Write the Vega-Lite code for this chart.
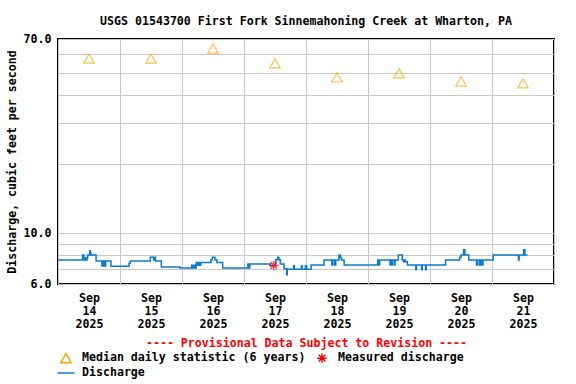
{
  "$schema": "https://vega.github.io/schema/vega-lite/v6.json",
  "width": 496,
  "height": 245,
  "autosize": {"type": "none"},
  "padding": {"left": 58, "top": 39, "right": 22, "bottom": 100},
  "background": "white",
  "title": {
    "text": "USGS 01543700 First Fork Sinnemahoning Creek at Wharton, PA",
    "font": "DejaVu Sans Mono",
    "fontSize": 11.6,
    "fontWeight": "bold",
    "color": "black",
    "frame": "group",
    "anchor": "middle",
    "offset": 5
  },
  "config": {
    "view": {"stroke": "black", "strokeWidth": 2},
    "font": "DejaVu Sans Mono",
    "axis": {
      "labelFont": "DejaVu Sans Mono",
      "labelFontSize": 11.6,
      "labelFontWeight": "bold",
      "labelColor": "black",
      "titleFont": "DejaVu Sans Mono",
      "titleFontSize": 11.6,
      "titleFontWeight": "bold",
      "titleColor": "black",
      "ticks": false,
      "domain": false,
      "grid": true,
      "gridColor": "#c8c8c8",
      "gridWidth": 1
    },
    "legend": {
      "labelFont": "DejaVu Sans Mono",
      "labelFontSize": 11.6,
      "labelFontWeight": "bold",
      "labelColor": "black",
      "labelLimit": 0
    }
  },
  "datasets": {
    "flow": [
      {"t": "2025-09-14T00:00", "v": 7.64},
      {"t": "2025-09-14T09:30", "v": 8.03},
      {"t": "2025-09-14T10:00", "v": 7.64},
      {"t": "2025-09-14T10:30", "v": 7.8},
      {"t": "2025-09-14T11:00", "v": 7.64},
      {"t": "2025-09-14T11:15", "v": 7.8},
      {"t": "2025-09-14T11:30", "v": 8.03},
      {"t": "2025-09-14T12:15", "v": 8.37},
      {"t": "2025-09-14T12:30", "v": 8.2},
      {"t": "2025-09-14T12:45", "v": 8.03},
      {"t": "2025-09-14T14:45", "v": 7.55},
      {"t": "2025-09-14T17:00", "v": 7.19},
      {"t": "2025-09-14T17:30", "v": 7.55},
      {"t": "2025-09-14T18:00", "v": 7.19},
      {"t": "2025-09-14T18:30", "v": 7.55},
      {"t": "2025-09-14T20:30", "v": 7.16},
      {"t": "2025-09-15T03:30", "v": 7.38},
      {"t": "2025-09-15T04:00", "v": 7.55},
      {"t": "2025-09-15T11:45", "v": 7.85},
      {"t": "2025-09-15T13:00", "v": 7.64},
      {"t": "2025-09-15T13:30", "v": 7.85},
      {"t": "2025-09-15T13:45", "v": 7.55},
      {"t": "2025-09-15T16:00", "v": 7.12},
      {"t": "2025-09-15T23:15", "v": 7.04},
      {"t": "2025-09-16T03:45", "v": 7.24},
      {"t": "2025-09-16T04:15", "v": 7.04},
      {"t": "2025-09-16T04:45", "v": 7.24},
      {"t": "2025-09-16T05:15", "v": 7.04},
      {"t": "2025-09-16T05:30", "v": 7.44},
      {"t": "2025-09-16T06:00", "v": 7.24},
      {"t": "2025-09-16T06:30", "v": 7.44},
      {"t": "2025-09-16T07:00", "v": 7.24},
      {"t": "2025-09-16T07:15", "v": 7.44},
      {"t": "2025-09-16T11:15", "v": 7.65},
      {"t": "2025-09-16T11:45", "v": 7.84},
      {"t": "2025-09-16T12:45", "v": 7.65},
      {"t": "2025-09-16T13:30", "v": 7.44},
      {"t": "2025-09-16T15:45", "v": 7.04},
      {"t": "2025-09-17T01:30", "v": 7.33},
      {"t": "2025-09-17T02:00", "v": 7.04},
      {"t": "2025-09-17T02:15", "v": 7.33},
      {"t": "2025-09-17T10:15", "v": 7.21},
      {"t": "2025-09-17T12:15", "v": 7.65},
      {"t": "2025-09-17T13:00", "v": 7.84},
      {"t": "2025-09-17T13:30", "v": 7.65},
      {"t": "2025-09-17T14:00", "v": 7.33},
      {"t": "2025-09-17T15:30", "v": 7.0},
      {"t": "2025-09-17T16:30", "v": 6.59},
      {"t": "2025-09-17T16:45", "v": 6.95},
      {"t": "2025-09-17T19:15", "v": 7.21},
      {"t": "2025-09-17T19:30", "v": 6.95},
      {"t": "2025-09-17T22:15", "v": 7.21},
      {"t": "2025-09-17T22:30", "v": 6.95},
      {"t": "2025-09-17T23:45", "v": 7.21},
      {"t": "2025-09-18T00:15", "v": 6.95},
      {"t": "2025-09-18T02:00", "v": 7.26},
      {"t": "2025-09-18T07:00", "v": 7.64},
      {"t": "2025-09-18T10:00", "v": 7.26},
      {"t": "2025-09-18T10:15", "v": 7.64},
      {"t": "2025-09-18T11:00", "v": 7.26},
      {"t": "2025-09-18T11:30", "v": 7.64},
      {"t": "2025-09-18T12:45", "v": 8.03},
      {"t": "2025-09-18T13:15", "v": 7.8},
      {"t": "2025-09-18T13:45", "v": 7.64},
      {"t": "2025-09-18T14:45", "v": 7.26},
      {"t": "2025-09-19T03:45", "v": 7.64},
      {"t": "2025-09-19T04:15", "v": 7.26},
      {"t": "2025-09-19T04:30", "v": 7.64},
      {"t": "2025-09-19T08:30", "v": 7.26},
      {"t": "2025-09-19T08:45", "v": 7.64},
      {"t": "2025-09-19T09:15", "v": 7.26},
      {"t": "2025-09-19T09:30", "v": 7.64},
      {"t": "2025-09-19T10:15", "v": 7.26},
      {"t": "2025-09-19T10:30", "v": 7.64},
      {"t": "2025-09-19T11:45", "v": 8.03},
      {"t": "2025-09-19T13:15", "v": 7.64},
      {"t": "2025-09-19T13:45", "v": 7.5},
      {"t": "2025-09-19T14:15", "v": 7.64},
      {"t": "2025-09-19T14:30", "v": 7.5},
      {"t": "2025-09-19T15:15", "v": 7.26},
      {"t": "2025-09-19T18:30", "v": 6.92},
      {"t": "2025-09-19T18:45", "v": 7.26},
      {"t": "2025-09-19T20:45", "v": 6.92},
      {"t": "2025-09-19T21:00", "v": 7.26},
      {"t": "2025-09-19T22:15", "v": 6.92},
      {"t": "2025-09-19T22:30", "v": 7.26},
      {"t": "2025-09-20T06:00", "v": 7.64},
      {"t": "2025-09-20T11:30", "v": 7.85},
      {"t": "2025-09-20T12:00", "v": 8.03},
      {"t": "2025-09-20T13:00", "v": 8.46},
      {"t": "2025-09-20T13:30", "v": 8.03},
      {"t": "2025-09-20T15:00", "v": 7.64},
      {"t": "2025-09-20T18:00", "v": 7.26},
      {"t": "2025-09-20T18:30", "v": 7.64},
      {"t": "2025-09-20T19:15", "v": 7.26},
      {"t": "2025-09-20T19:45", "v": 7.64},
      {"t": "2025-09-20T20:15", "v": 7.26},
      {"t": "2025-09-20T20:30", "v": 7.64},
      {"t": "2025-09-21T00:30", "v": 8.03},
      {"t": "2025-09-21T10:15", "v": 7.64},
      {"t": "2025-09-21T10:30", "v": 8.03},
      {"t": "2025-09-21T12:15", "v": 8.46},
      {"t": "2025-09-21T12:45", "v": 8.03},
      {"t": "2025-09-21T13:45", "v": 8.03}
    ],
    "median": [
      {"t": "2025-09-14T12:00", "v": 57.5},
      {"t": "2025-09-15T12:00", "v": 57.5},
      {"t": "2025-09-16T12:00", "v": 63.6},
      {"t": "2025-09-17T12:00", "v": 54.8},
      {"t": "2025-09-18T12:00", "v": 47.6},
      {"t": "2025-09-19T12:00", "v": 49.6},
      {"t": "2025-09-20T12:00", "v": 45.7},
      {"t": "2025-09-21T12:00", "v": 44.9}
    ],
    "measured": [
      {"t": "2025-09-17T11:30", "v": 7.23}
    ]
  },
  "encoding": {
    "x": {
      "field": "t",
      "type": "temporal",
      "scale": {
        "domain": [
          {"year": 2025, "month": 9, "date": 14},
          {"year": 2025, "month": 9, "date": 22}
        ]
      },
      "axis": {
        "title": "---- Provisional Data Subject to Revision ----",
        "titleColor": "#FF0000",
        "titlePadding": 8,
        "tickCount": {"interval": "day", "step": 1},
        "labelExpr": "date(datum.value) == 22 ? '' : [timeFormat(datum.value, '%b'), timeFormat(datum.value, '%d'), timeFormat(datum.value, '%Y')]",
        "labelOffset": 31,
        "labelPadding": 8,
        "labelLineHeight": 13,
        "labelAlign": "center",
        "labelBaseline": "top",
        "labelOverlap": false,
        "labelFlush": false,
        "labelBound": false
      }
    },
    "y": {
      "field": "v",
      "type": "quantitative",
      "scale": {"type": "log", "domain": [6, 70], "nice": false, "zero": false},
      "axis": {
        "title": "Discharge, cubic feet per second",
        "titlePadding": 6,
        "values": [6, 7, 8, 9, 10, 20, 30, 40, 50, 60, 70],
        "labelExpr": "datum.value == 6 || datum.value == 10 || datum.value == 70 ? format(datum.value, '.1f') : ''",
        "labelPadding": 7,
        "labelFlush": false
      }
    }
  },
  "layer": [
    {
      "data": {"name": "flow"},
      "mark": {"type": "line", "interpolate": "step-after", "strokeWidth": 1.5},
      "encoding": {
        "color": {
          "datum": "Discharge",
          "type": "nominal",
          "scale": {
            "domain": ["Median daily statistic (6 years)", "Measured discharge", "Discharge"],
            "range": ["#FFA500", "#FF0000", "#0B7BD0"]
          },
          "legend": {
            "orient": "bottom",
            "title": null,
            "columns": 2,
            "columnPadding": 8,
            "rowPadding": 1,
            "labelOffset": 10,
            "symbolOffset": 2,
            "offset": 2,
            "padding": 0,
            "labelLimit": 0,
            "symbolSize": 240,
            "symbolStrokeWidth": 1.5,
            "encode": {
              "symbols": {
                "update": {
                  "size": {"signal": "datum.value === 'Discharge' ? 289 : datum.value === 'Measured discharge' ? 90 : 110"}
                }
              }
            }
          }
        }
      }
    },
    {
      "data": {"name": "median"},
      "mark": {"type": "point", "filled": false, "strokeWidth": 1.2, "size": 110},
      "encoding": {
        "color": {"datum": "Median daily statistic (6 years)", "type": "nominal"},
        "shape": {
          "datum": "Median daily statistic (6 years)",
          "type": "nominal",
          "scale": {
            "domain": ["Median daily statistic (6 years)", "Measured discharge", "Discharge"],
            "range": ["triangle-up", "M-1,0L1,0M0,-1L0,1M-0.7,-0.7L0.7,0.7M-0.7,0.7L0.7,-0.7", "stroke"]
          }
        }
      }
    },
    {
      "data": {"name": "measured"},
      "mark": {"type": "point", "filled": false, "strokeWidth": 1.5, "size": 90},
      "encoding": {
        "color": {"datum": "Measured discharge", "type": "nominal"},
        "shape": {"datum": "Measured discharge", "type": "nominal"}
      }
    }
  ]
}
